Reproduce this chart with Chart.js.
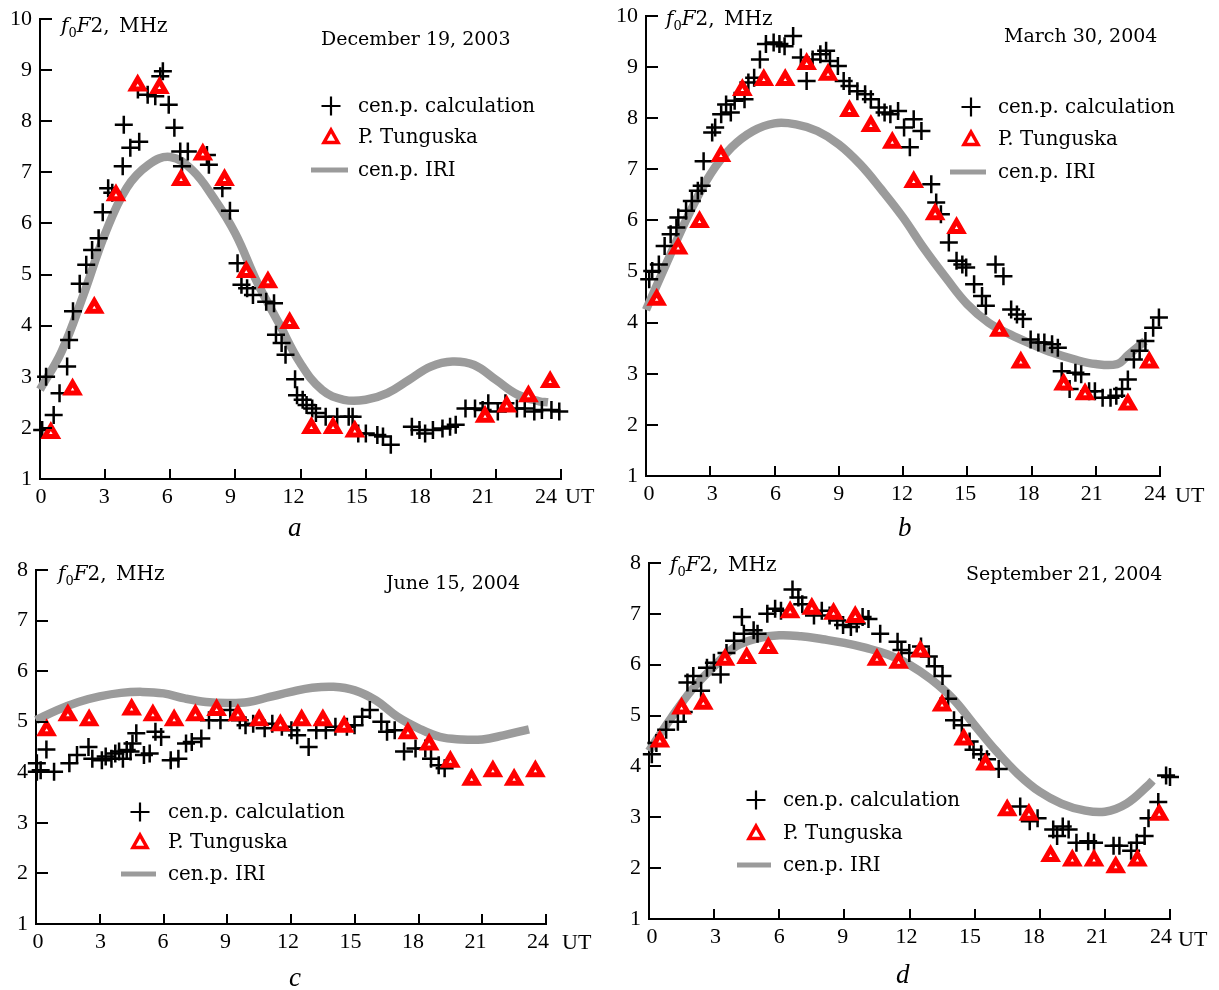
<!DOCTYPE html>
<html><head><meta charset="utf-8">
<script src="https://cdn.jsdelivr.net/npm/chart.js@4.4.0/dist/chart.umd.min.js"></script>
<style>
html,body{margin:0;padding:0;background:#fff;}
#page{position:relative;width:1219px;height:990px;overflow:hidden;background:#fff;}
canvas{position:absolute;}
.t{position:absolute;white-space:nowrap;line-height:1;color:#000;transform:translateY(-50%);}
.txt{font-family:"DejaVu Serif",serif;font-size:19px;}
.leg{font-family:"DejaVu Serif",serif;font-size:19.8px;}
.ttl{font-family:"DejaVu Serif",serif;font-size:20px;word-spacing:3px;}
.ttl .sb{font-size:13px;position:relative;top:5px;}
.num{font-family:"Liberation Serif",serif;font-size:22px;}
.let{font-family:"Liberation Serif",serif;font-style:italic;font-size:27px;}
#sym{position:absolute;left:0;top:0;}
</style></head>
<body><div id="page"><svg id="sym" width="1219" height="990"></svg></div>
<script>
// ---------------- data ----------------
const utTicks = [0,3,6,9,12,15,18,21,24];
const fTicks10 = [1,2,3,4,5,6,7,8,9,10];
const fTicks8 = [1,2,3,4,5,6,7,8];

// December 19, 2003
const decCalc = [[0.1,1.96],[0.28,3.0],[0.63,2.25],[0.9,2.68],[1.25,3.2],[1.34,3.72],[1.52,4.28],[1.83,4.82],[2.13,5.19],[2.4,5.48],[2.7,5.71],[2.89,6.22],[3.14,6.69],[3.33,6.6],[3.81,7.12],[3.86,7.93],[4.16,7.48],[4.57,7.6],[4.51,8.62],[4.96,8.52],[5.31,8.49],[5.54,8.88],[5.66,8.98],[5.93,8.32],[6.19,7.87],[6.46,7.41],[6.81,7.41],[6.54,7.12],[7.69,7.34],[7.78,7.15],[8.4,6.69],[8.75,6.25],[9.1,5.22],[9.28,4.8],[9.54,4.73],[9.81,4.6],[10.42,4.47],[10.78,4.44],[10.87,3.82],[11.13,3.66],[11.31,3.43],[11.75,2.95],[11.84,2.64],[12.1,2.55],[12.28,2.45],[12.54,2.38],[12.71,2.29],[13.16,2.22],[13.69,2.22],[14.22,2.22],[14.4,2.22],[14.66,1.89],[15.01,1.89],[15.54,1.86],[15.8,1.83],[16.16,1.67],[17.13,2.02],[17.48,1.96],[17.74,1.89],[18.1,1.96],[18.54,1.99],[18.89,2.02],[19.15,2.06],[19.6,2.38],[20.04,2.38],[20.39,2.35],[20.65,2.48],[21.09,2.32],[21.44,2.48],[21.97,2.38],[22.33,2.38],[22.77,2.32],[23.12,2.35],[23.56,2.35],[23.92,2.32]];
const decTung = [[0.5,1.9],[1.5,2.75],[2.5,4.35],[3.5,6.55],[4.5,8.7],[5.5,8.65],[6.5,6.85],[7.5,7.35],[8.5,6.85],[9.5,5.05],[10.5,4.85],[11.5,4.05],[12.5,2.0],[13.5,2.0],[14.5,1.93],[20.5,2.22],[21.5,2.42],[22.5,2.62],[23.5,2.9]];
const decIri = [[0,2.75],[1,3.5],[2,4.6],[3,5.8],[4,6.7],[5,7.15],[6,7.3],[7,7.05],[8,6.5],[9,5.8],[10,4.85],[11,4.05],[12,3.26],[13,2.74],[14,2.55],[15,2.55],[16,2.68],[17,2.94],[18,3.2],[19,3.3],[20,3.23],[21,2.94],[22,2.65],[23,2.52],[23.4,2.5]];

// March 30, 2004
const marCalc = [[0.15,4.85],[0.29,5.01],[0.6,5.14],[0.87,5.5],[1.15,5.73],[1.42,5.86],[1.51,6.06],[1.87,6.19],[2.14,6.38],[2.42,6.58],[2.6,6.68],[2.69,7.16],[3.09,7.72],[3.23,7.82],[3.51,8.08],[3.74,8.27],[3.96,8.11],[4.14,8.34],[4.6,8.37],[4.78,8.7],[5.05,8.79],[5.32,9.15],[5.6,9.45],[5.96,9.48],[6.23,9.45],[6.47,9.41],[6.87,9.61],[7.23,9.19],[7.5,8.73],[7.78,9.15],[8.14,9.25],[8.41,9.32],[8.59,9.12],[8.96,9.02],[9.23,8.73],[9.5,8.63],[9.87,8.53],[10.23,8.47],[10.5,8.37],[10.87,8.21],[11.14,8.11],[11.41,8.08],[11.77,8.14],[12.05,7.82],[12.32,7.43],[12.5,7.98],[12.86,7.75],[13.32,6.71],[13.55,6.35],[13.77,6.12],[14.14,5.57],[14.5,5.21],[14.77,5.14],[14.95,5.08],[15.32,4.75],[15.69,4.52],[15.87,4.33],[16.32,5.14],[16.69,4.91],[17.05,4.26],[17.32,4.16],[17.6,4.07],[17.96,3.67],[18.32,3.61],[18.6,3.61],[18.96,3.58],[19.23,3.51],[19.41,3.05],[19.78,2.7],[20.05,3.02],[20.32,2.99],[20.69,2.66],[20.96,2.66],[21.32,2.53],[21.69,2.53],[21.96,2.57],[22.23,2.7],[22.5,2.89],[22.78,3.28],[23.05,3.45],[23.32,3.64],[23.68,3.9],[23.95,4.1]];
const marTung = [[0.5,4.45],[1.5,5.45],[2.5,5.97],[3.5,7.26],[4.5,8.55],[5.5,8.75],[6.5,8.75],[7.5,9.06],[8.5,8.85],[9.5,8.14],[10.5,7.85],[11.5,7.52],[12.5,6.75],[13.5,6.12],[14.5,5.85],[16.5,3.84],[17.5,3.22],[19.5,2.79],[20.5,2.6],[22.5,2.4],[23.5,3.22]];
const marIri = [[0,4.25],[1,5.2],[2,6.12],[3,6.9],[4,7.43],[5,7.75],[6,7.9],[7,7.88],[8,7.75],[9,7.49],[10,7.1],[11,6.6],[12,6.06],[13,5.44],[14,4.88],[15,4.36],[16,4.0],[17,3.77],[18,3.58],[19,3.41],[20,3.28],[21,3.19],[22,3.19],[22.5,3.36],[23,3.54],[23.3,3.64]];

// June 15, 2004
const junCalc = [[0.04,4.18],[0.04,4.01],[0.22,4.04],[0.49,4.45],[0.85,4.01],[1.57,4.18],[1.93,4.34],[2.47,4.5],[2.65,4.27],[3.1,4.24],[3.28,4.31],[3.55,4.27],[3.73,4.37],[3.91,4.41],[4.09,4.27],[4.27,4.44],[4.45,4.41],[4.54,4.57],[4.72,4.77],[5.08,4.34],[5.35,4.37],[5.62,4.8],[5.89,4.7],[6.34,4.24],[6.7,4.27],[7.06,4.57],[7.33,4.6],[7.78,4.67],[8.14,5.03],[8.68,5.03],[9.14,5.23],[9.59,5.03],[9.86,4.93],[10.22,4.96],[10.76,4.87],[11.12,4.96],[11.57,4.9],[12.02,4.83],[12.29,4.73],[12.83,4.5],[13.19,4.83],[13.64,4.83],[14.09,4.9],[14.63,4.9],[14.99,4.93],[15.35,5.1],[15.71,5.23],[16.25,5.0],[16.52,4.8],[16.88,4.83],[17.32,4.41],[17.86,4.47],[18.32,4.47],[18.59,4.27],[18.95,4.14],[19.23,4.08]];
const junTung = [[0.5,4.83],[1.5,5.13],[2.5,5.03],[4.5,5.24],[5.5,5.13],[6.5,5.03],[7.5,5.13],[8.5,5.23],[9.5,5.13],[10.5,5.03],[11.5,4.93],[12.5,5.03],[13.5,5.03],[14.5,4.9],[17.5,4.77],[18.5,4.55],[19.5,4.21],[20.5,3.85],[21.5,4.02],[22.5,3.85],[23.5,4.02]];
const junIri = [[0,5.03],[1,5.23],[2,5.39],[3,5.5],[4,5.57],[5,5.59],[6,5.56],[7,5.46],[8,5.39],[9,5.37],[10,5.39],[11,5.49],[12,5.59],[13,5.67],[14,5.69],[15,5.62],[16,5.42],[17,5.1],[18,4.87],[19,4.7],[20,4.65],[21,4.65],[22,4.73],[23,4.83],[23.2,4.85]];

// September 21, 2004
const sepCalc = [[0.13,4.24],[0.34,4.46],[0.79,4.72],[1.33,4.88],[1.6,5.07],[1.77,5.65],[2.04,5.78],[2.4,5.49],[2.67,5.94],[2.99,6.04],[3.3,5.81],[3.57,6.23],[3.92,6.47],[4.28,6.94],[4.37,6.61],[4.82,6.68],[5.0,6.61],[5.45,7.0],[5.81,7.1],[6.08,7.06],[6.61,7.48],[6.88,7.32],[7.06,7.19],[7.6,6.97],[7.96,7.06],[8.32,6.97],[8.67,6.87],[8.94,6.78],[9.3,6.74],[9.57,6.81],[9.84,6.94],[10.11,6.9],[10.65,6.61],[11.45,6.45],[11.63,6.29],[11.99,6.23],[12.53,6.36],[12.89,6.16],[13.16,5.97],[13.52,5.78],[13.78,5.33],[14.05,4.91],[14.41,4.81],[14.77,4.49],[14.95,4.33],[15.3,4.24],[15.57,4.14],[16.11,3.95],[17.1,3.21],[17.54,2.92],[17.9,2.98],[18.62,2.76],[18.8,2.63],[19.06,2.82],[19.33,2.76],[19.69,2.5],[20.23,2.53],[20.5,2.5],[21.4,2.44],[21.67,2.44],[22.21,2.34],[22.47,2.5],[22.83,2.63],[23.01,2.98],[23.46,3.3],[23.82,3.82],[24.0,3.79]];
const sepTung = [[0.5,4.49],[1.5,5.14],[2.5,5.23],[3.5,6.1],[4.5,6.13],[5.5,6.33],[6.5,7.03],[7.5,7.1],[8.5,7.0],[9.5,6.94],[10.5,6.1],[11.5,6.04],[12.5,6.26],[13.5,5.2],[14.5,4.53],[15.5,4.04],[16.5,3.14],[17.5,3.05],[18.5,2.24],[19.5,2.15],[20.5,2.15],[21.5,2.02],[22.5,2.15],[23.5,3.05]];
const sepIri = [[0,4.3],[1,4.94],[2,5.52],[3,5.97],[4,6.36],[5,6.52],[6,6.58],[7,6.56],[8,6.5],[9,6.43],[10,6.33],[11,6.2],[12,6.0],[13,5.71],[14,5.33],[15,4.81],[16,4.3],[17,3.85],[18,3.5],[19,3.27],[20,3.14],[21,3.11],[22,3.27],[23,3.63],[23.2,3.72]];

const seriesNames = ['cen.p. calculation', 'P. Tunguska', 'cen.p. IRI'];

// ---------------- layout ----------------
const panels = [
  {letter:'a', date:'December 19, 2003', calc:decCalc, tung:decTung, iri:decIri, yTicks:fTicks10,
   L:40, R:561, T:19, B:479, labMin:-0.0475, labMax:24.71,
   title:[61,25], dateAt:[321,38], legX:331, legRows:[106,137,170], legLine:[311,348], legText:358, utAt:[565,496], letAt:[288,527]},
  {letter:'b', date:'March 30, 2004', calc:marCalc, tung:marTung, iri:marIri, yTicks:fTicks10,
   L:646, R:1160, T:16, B:476, labMin:-0.142, labMax:24.24,
   title:[666,18], dateAt:[1004,35], legX:971, legRows:[107,139,172], legLine:[950,986], legText:998, utAt:[1175,495], letAt:[898,527]},
  {letter:'c', date:'June 15, 2004', calc:junCalc, tung:junTung, iri:junIri, yTicks:fTicks8,
   L:36, R:546, T:570, B:924, labMin:-0.096, labMax:24.38,
   title:[58,573], dateAt:[386,582], legX:140, legRows:[812,842,874], legLine:[121,156], legText:168, utAt:[562,942], letAt:[289,977]},
  {letter:'d', date:'September 21, 2004', calc:sepCalc, tung:sepTung, iri:sepIri, yTicks:fTicks8,
   L:649, R:1170, T:563, B:919, labMin:-0.142, labMax:24.43,
   title:[670,564], dateAt:[966,573], legX:756, legRows:[800,833,865], legLine:[737,771], legText:783, utAt:[1178,939], letAt:[896,974]}
];

const page = document.getElementById('page');
const svg = document.getElementById('sym');
const SVGNS = 'http://www.w3.org/2000/svg';

function addText(cls, html, x, y) {
  const d = document.createElement('div');
  d.className = 't ' + cls;
  d.innerHTML = html;
  d.style.left = x + 'px';
  d.style.top = y + 'px';
  page.appendChild(d);
  return d;
}
function svgEl(tag, attrs) {
  const e = document.createElementNS(SVGNS, tag);
  for (const k in attrs) e.setAttribute(k, attrs[k]);
  svg.appendChild(e);
  return e;
}

const innerTicks = {
  id: 'innerTicks',
  afterDraw(chart) {
    const {ctx, chartArea: a} = chart;
    const x = chart.scales.x, y = chart.scales.y;
    ctx.save();
    ctx.strokeStyle = '#000';
    ctx.lineWidth = 2;
    ctx.beginPath();
    x.ticks.forEach(t => {
      const px = Math.round(x.getPixelForValue(t.value));
      ctx.moveTo(px, a.bottom); ctx.lineTo(px, a.bottom - 10);
    });
    y.ticks.forEach(t => {
      const py = Math.round(y.getPixelForValue(t.value));
      ctx.moveTo(a.left, py); ctx.lineTo(a.left + 12, py);
    });
    ctx.stroke();
    ctx.restore();
  }
};

const toXY = arr => arr.map(p => ({x: p[0], y: p[1]}));
const tickFont = {family: 'Liberation Serif', size: 22};

panels.forEach(p => {
  const W = p.R - p.L + 100, H = p.B - p.T + 70;
  const cv = document.createElement('canvas');
  cv.width = W; cv.height = H;
  cv.style.left = (p.L - 50) + 'px';
  cv.style.top = (p.T - 30) + 'px';
  cv.style.width = W + 'px';
  cv.style.height = H + 'px';
  page.insertBefore(cv, svg);

  new Chart(cv, {
    type: 'scatter',
    data: {
      datasets: [
        {label: seriesNames[0], data: toXY(p.calc), xAxisID: 'x', yAxisID: 'y',
         pointStyle: 'cross', pointRadius: 9, borderWidth: 2.5, borderColor: '#000', backgroundColor: '#000',
         showLine: false, order: 2, clip: false},
        {label: seriesNames[1], data: toXY(p.tung), xAxisID: 'x', yAxisID: 'y',
         pointStyle: 'triangle', pointRadius: 7, borderWidth: 5, borderColor: '#ff0000', backgroundColor: '#ffffff',
         showLine: false, order: 1, clip: false},
        {label: seriesNames[2], type: 'line', data: toXY(p.iri), xAxisID: 'x', yAxisID: 'y',
         borderColor: '#9b9b9b', borderWidth: 8.5, pointRadius: 0, tension: 0.4, fill: false,
         showLine: true, order: 3, clip: false}
      ]
    },
    options: {
      responsive: false, animation: false, devicePixelRatio: 1, events: [],
      layout: {padding: {left: 0, top: 30, right: 50, bottom: 0}},
      plugins: {legend: {display: false}, tooltip: {enabled: false}, title: {display: false}},
      scales: {
        x: {type: 'linear', axis: 'x', position: 'bottom', min: 0, max: 24, weight: 0,
            grid: {display: false, drawTicks: false}, border: {display: true, color: '#000', width: 2},
            ticks: {display: false},
            afterBuildTicks: s => { s.ticks = utTicks.map(v => ({value: v})); },
            afterFit: s => { s.height = 0; }},
        xl: {type: 'linear', axis: 'x', position: 'bottom', min: p.labMin, max: p.labMax, weight: 1,
            grid: {display: false, drawTicks: false}, border: {display: false},
            ticks: {font: tickFont, color: '#000', padding: 5, maxRotation: 0, autoSkip: false},
            afterBuildTicks: s => { s.ticks = utTicks.map(v => ({value: v})); },
            afterFit: s => { s.height = 40; }},
        y: {type: 'linear', axis: 'y', position: 'left', min: 1, max: p.yTicks[p.yTicks.length - 1],
            grid: {display: false, drawTicks: false}, border: {display: true, color: '#000', width: 2},
            ticks: {font: tickFont, color: '#000', padding: 8, autoSkip: false},
            afterBuildTicks: s => { s.ticks = p.yTicks.map(v => ({value: v})); },
            afterFit: s => { s.width = 50; }}
      }
    },
    plugins: [innerTicks]
  });

  // texts
  addText('ttl', '<i>f</i><span class="sb">0</span><i>F</i>2, MHz', p.title[0], p.title[1]);
  addText('txt', p.date, p.dateAt[0], p.dateAt[1]);
  addText('leg', seriesNames[0], p.legText, p.legRows[0]);
  addText('leg', seriesNames[1], p.legText, p.legRows[1]);
  addText('leg', seriesNames[2], p.legText, p.legRows[2]);
  addText('num', 'UT', p.utAt[0], p.utAt[1]);
  addText('let', p.letter, p.letAt[0], p.letAt[1]);

  // legend keys
  const cx = p.legX, cy = p.legRows[0];
  svgEl('path', {d: `M${cx-9.5} ${cy}h19M${cx} ${cy-9.5}v19`, stroke: '#000', 'stroke-width': 2.2, fill: 'none'});
  const ty = p.legRows[1] + 1;
  svgEl('polygon', {points: `${cx},${ty-8} ${cx+7},${ty+4.5} ${cx-7},${ty+4.5}`, stroke: '#ff0000', 'stroke-width': 3.5, fill: '#fff', 'stroke-linejoin': 'miter'});
  svgEl('line', {x1: p.legLine[0], y1: p.legRows[2], x2: p.legLine[1], y2: p.legRows[2], stroke: '#9b9b9b', 'stroke-width': 5});
});
</script>
</body></html>
